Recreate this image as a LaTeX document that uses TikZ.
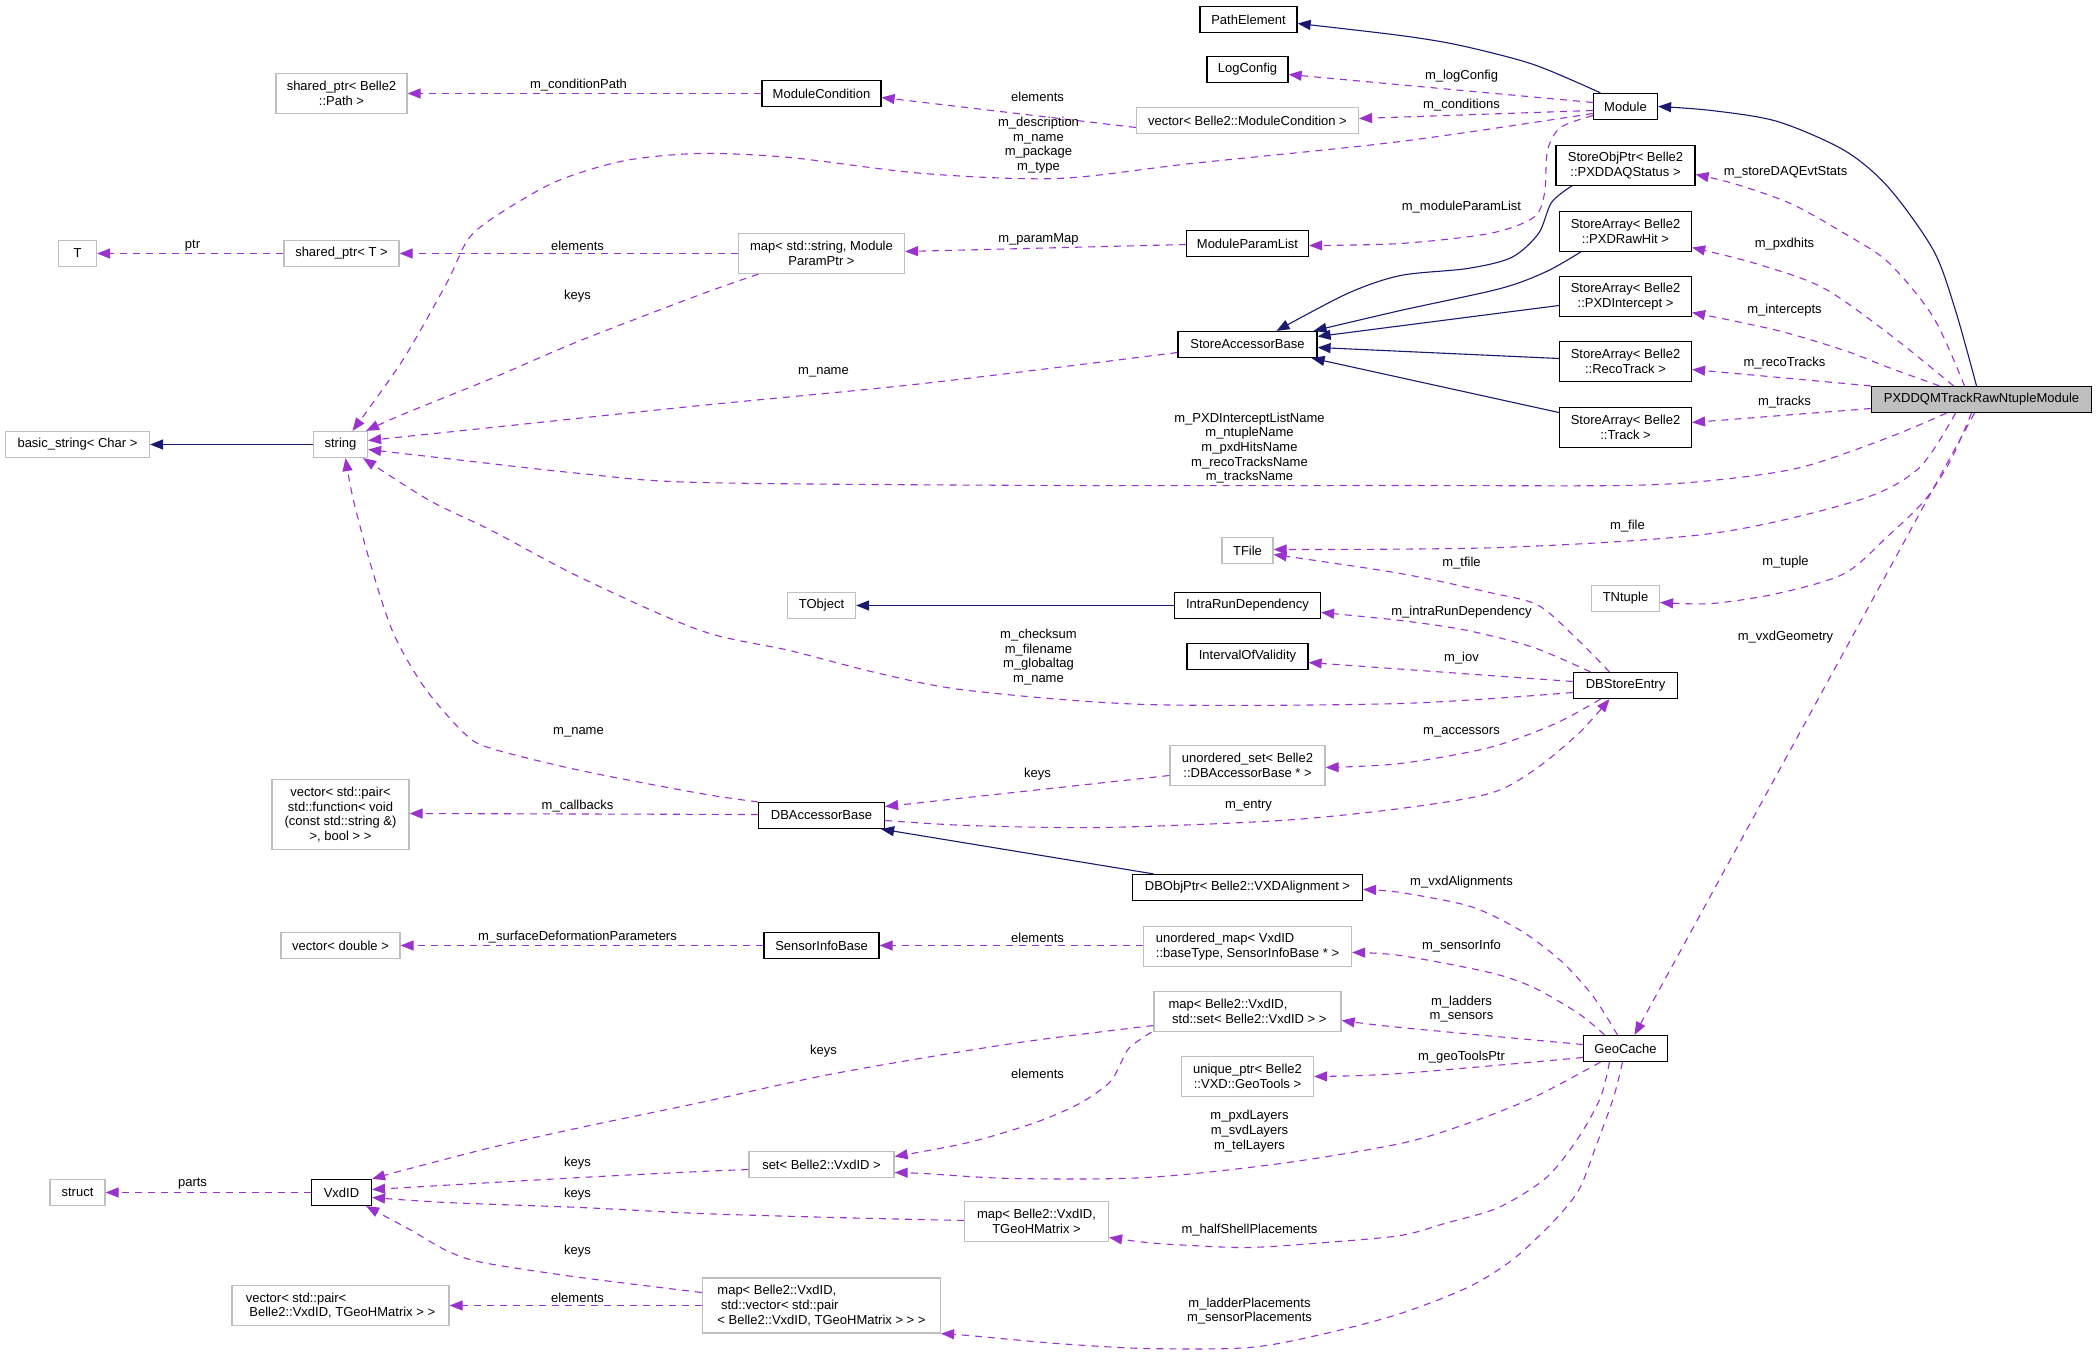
\documentclass[tikz,border=0pt]{standalone}
\usepackage{fontspec}
\setmainfont{Liberation Sans}
\usetikzlibrary{arrows.meta}
\definecolor{usec}{HTML}{9A32CD}
\definecolor{inhc}{HTML}{191970}
\definecolor{grayb}{HTML}{BFBFBF}
\begin{document}
\begin{tikzpicture}[x=1pt,y=-1pt,
  every node/.style={font=\fontsize{13}{14.7}\selectfont, inner sep=0pt, align=center},
  cls/.style={draw=black, line width=1.2pt, rectangle},
  ucls/.style={draw=grayb, line width=1.2pt, rectangle},
  lbl/.style={},
  inh/.style={draw=inhc, line width=1.1pt, -{Triangle[length=13pt,width=10pt]}},
  use/.style={draw=usec, line width=1.1pt, dash pattern=on 7pt off 6pt, -{Triangle[length=13pt,width=10pt]}},
]
\useasboundingbox[fill=white] (-0.5,-0.5) rectangle (2095.5,1355.5);

% ---------- classes ----------
\node[cls, minimum width=97pt, minimum height=26pt] (pathel) at (1248,19) {PathElement};
\node[cls, minimum width=81pt, minimum height=26pt] (logcfg) at (1247,69) {LogConfig};
\node[cls, minimum width=64pt, minimum height=26pt] (module) at (1625,106) {Module};
\node[cls, minimum width=119pt, minimum height=26pt] (modcond) at (821,93) {ModuleCondition};
\node[ucls, minimum width=222pt, minimum height=26pt] (vecmc) at (1247,120) {vector< Belle2::ModuleCondition >};
\node[ucls, minimum width=131pt, minimum height=40pt] (shpath) at (341,93) {shared\_ptr< Belle2\\::Path >};
\node[ucls, minimum width=38pt, minimum height=26pt] (tt) at (77,253) {T};
\node[ucls, minimum width=115pt, minimum height=26pt] (shT) at (341,253) {shared\_ptr< T >};
\node[ucls, minimum width=166pt, minimum height=40pt] (mapsp) at (821,253) {map< std::string, Module\\ParamPtr >};
\node[cls, minimum width=122pt, minimum height=26pt] (mpl) at (1247,243) {ModuleParamList};
\node[cls, minimum width=139pt, minimum height=40pt] (storeobj) at (1625,165) {StoreObjPtr< Belle2\\::PXDDAQStatus >};
\node[cls, minimum width=132pt, minimum height=40pt] (sarawhit) at (1625,231) {StoreArray< Belle2\\::PXDRawHit >};
\node[cls, minimum width=132pt, minimum height=40pt] (saint) at (1625,296) {StoreArray< Belle2\\::PXDIntercept >};
\node[cls, minimum width=132pt, minimum height=40pt] (sareco) at (1625,361) {StoreArray< Belle2\\::RecoTrack >};
\node[cls, minimum width=132pt, minimum height=40pt] (satrack) at (1625,427) {StoreArray< Belle2\\::Track >};
\node[cls, minimum width=139pt, minimum height=26pt] (sab) at (1247,344) {StoreAccessorBase};
\node[cls, fill=grayb, minimum width=220pt, minimum height=26pt] (pxd) at (1981,399) {PXDDQMTrackRawNtupleModule};
\node[ucls, minimum width=144pt, minimum height=26pt] (basicstr) at (77,444) {basic\_string< Char >};
\node[ucls, minimum width=54pt, minimum height=26pt] (str) at (340,444) {string};
\node[ucls, minimum width=51pt, minimum height=26pt] (tfile) at (1247,550) {TFile};
\node[ucls, minimum width=68pt, minimum height=26pt] (tntuple) at (1625,598) {TNtuple};
\node[ucls, minimum width=68pt, minimum height=26pt] (tobject) at (821,605) {TObject};
\node[cls, minimum width=146pt, minimum height=26pt] (intrarun) at (1247,605) {IntraRunDependency};
\node[cls, minimum width=121pt, minimum height=26pt] (iov) at (1247,656) {IntervalOfValidity};
\node[cls, minimum width=104pt, minimum height=26pt] (dbstore) at (1625,685) {DBStoreEntry};
\node[ucls, minimum width=155pt, minimum height=40pt] (uset) at (1247,765) {unordered\_set< Belle2\\::DBAccessorBase * >};
\node[cls, minimum width=126pt, minimum height=26pt] (dbacc) at (821,815) {DBAccessorBase};
\node[ucls, minimum width=137pt, minimum height=70pt] (veccb) at (340,814) {vector< std::pair<\\std::function< void\\(const std::string \&)\\>, bool > >};
\node[cls, minimum width=230pt, minimum height=26pt] (dbobj) at (1247,887) {DBObjPtr< Belle2::VXDAlignment >};
\node[ucls, minimum width=119pt, minimum height=26pt] (vecdbl) at (340,945) {vector< double >};
\node[cls, minimum width=115pt, minimum height=26pt] (sib) at (821,945) {SensorInfoBase};
\node[ucls, align=left, minimum width=208pt, minimum height=40pt] (umap) at (1247,946) {unordered\_map< VxdID\\::baseType, SensorInfoBase * >};
\node[ucls, align=left, minimum width=187pt, minimum height=40pt] (mapset) at (1247,1011) {map< Belle2::VxdID,\\\hspace*{3.6pt}std::set< Belle2::VxdID > >};
\node[ucls, minimum width=132pt, minimum height=40pt] (uptr) at (1247,1076) {unique\_ptr< Belle2\\::VXD::GeoTools >};
\node[cls, minimum width=84pt, minimum height=26pt] (geocache) at (1625,1048) {GeoCache};
\node[ucls, minimum width=145pt, minimum height=26pt] (setv) at (821,1164) {set< Belle2::VxdID >};
\node[ucls, minimum width=55pt, minimum height=26pt] (struct) at (77,1192) {struct};
\node[cls, minimum width=60pt, minimum height=26pt] (vxdid) at (341,1192) {VxdID};
\node[ucls, minimum width=144pt, minimum height=40pt] (maptg) at (1036,1221) {map< Belle2::VxdID,\\TGeoHMatrix >};
\node[ucls, align=left, minimum width=217pt, minimum height=40pt] (vecpair) at (340,1305) {vector< std::pair<\\\hspace*{3.6pt}Belle2::VxdID, TGeoHMatrix > >};
\node[ucls, align=left, minimum width=238pt, minimum height=55pt] (mapvec) at (821,1305) {map< Belle2::VxdID,\\\hspace*{3.6pt}std::vector< std::pair\\< Belle2::VxdID, TGeoHMatrix > > >};

% ---------- inheritance ----------
\draw[inh] plot[smooth] coordinates {([xshift=-5pt]pxd.north) (1955,310) (1933,250) (1888,187) (1844,150) (1777,121) (1711,110) (module.east)};
\draw[inh] plot[smooth] coordinates {([xshift=-25pt]module.north) (1533,64) (1460,45) (1400,35) ([yshift=-4pt]pathel.east)};
\draw[inh] plot[smooth] coordinates {([xshift=-54pt]storeobj.south) (1551,202) (1538,233) (1511,257) (1467,268) (1400,275) (1347,293) ([xshift=29pt]sab.north)};
\draw[inh] plot[smooth] coordinates {([xshift=-45pt]sarawhit.south) (1546,271) (1500,288) (1400,310) ([xshift=-4pt]sab.north east)};
\draw[inh] ([yshift=-9pt]saint.west) -- ([yshift=8pt]sab.east);
\draw[inh] ([yshift=3pt]sareco.west) -- ([yshift=-3pt]sab.east);
\draw[inh] ([yshift=15pt]satrack.west) -- ([xshift=-6pt]sab.south east);
\draw[inh] (intrarun.west) -- (tobject.east);
\draw[inh] ([xshift=-94pt]dbobj.north) -- ([xshift=-4pt]dbacc.south east);
\draw[inh] (str.west) -- (basicstr.east);

% ---------- usage ----------
\draw[use] (modcond.west) -- (shpath.east);
\draw[use] ([yshift=-7pt]vecmc.west) -- ([yshift=-4pt]modcond.east);
\draw[use] ([yshift=4pt]module.west) -- ([yshift=-5pt]logcfg.east);
\draw[use] ([yshift=-4pt]module.west) -- ([yshift=2pt]vecmc.east);
\draw[use] plot[smooth] coordinates {([yshift=-7pt]module.west) (1400,141) (1191,163) (1057,178) (923,173) (789,157) (700,153) (625,160) (558,180) (504,210) (469,237) (446,283) (402,360) ([xshift=12pt]str.north)};
\draw[use] plot[smooth] coordinates {([yshift=-9pt]module.west) (1560,127) (1547,150) (1544,193) (1533,217) (1489,233) (1400,243) ([yshift=-2pt]mpl.east)};
\draw[use] ([yshift=-1pt]mpl.west) -- ([yshift=2pt]mapsp.east);
\draw[use] (mapsp.west) -- (shT.east);
\draw[use] (shT.west) -- (tt.east);
\draw[use] plot[smooth] coordinates {([xshift=-63pt]mapsp.south) (700,294) (580,340) (491,378) (402,414) ([xshift=-2pt]str.north east)};
\draw[use] plot[smooth] coordinates {([yshift=-8pt]sab.west) (923,383) (700,405) (491,427) ([yshift=4pt]str.east)};
\draw[use] plot[smooth] coordinates {([xshift=-35pt]pxd.south) (1888,437) (1800,467) (1711,480) (1622,485) (1400,485) (1057,485) (700,482) (580,473) (446,458) ([yshift=-5pt]str.east)};
\draw[use] plot[smooth] coordinates {([xshift=-17pt]pxd.north) (1933,317) (1888,262) (1844,233) (1790,203) (1733,183) ([yshift=-9pt]storeobj.east)};
\draw[use] plot[smooth] coordinates {([xshift=-28pt]pxd.north) (1888,333) (1822,287) (1755,263) ([yshift=-16pt]sarawhit.east)};
\draw[use] plot[smooth] coordinates {([xshift=-42pt]pxd.north) (1888,367) (1844,350) (1777,330) ([yshift=-16pt]saint.east)};
\draw[use] (pxd.north west) -- ([yshift=-8pt]sareco.east);
\draw[use] ([yshift=-9pt]pxd.west) -- ([yshift=5pt]satrack.east);
\draw[use] plot[smooth] coordinates {([xshift=-26pt]pxd.south) (1918,468) (1857,500) (1711,533) (1500,547) ([yshift=1pt]tfile.east)};
\draw[use] plot[smooth] coordinates {([xshift=-16pt]dbstore.north) (1578,640) (1538,605) (1489,592) (1400,573) ([yshift=-4pt]tfile.east)};
\draw[use] plot[smooth] coordinates {([xshift=-10pt]pxd.south) (1950,460) (1924,500) (1888,535) (1844,573) (1777,593) (1711,603) ([yshift=-4pt]tntuple.east)};
\draw[use] ([xshift=-7pt]pxd.south) -- ([xshift=9pt]geocache.north);
\draw[use] plot[smooth] coordinates {([xshift=-35pt]dbstore.north) (1533,647) (1467,630) (1400,620) ([yshift=-7pt]intrarun.east)};
\draw[use] ([yshift=4pt]dbstore.west) -- ([yshift=-6pt]iov.east);
\draw[use] plot[smooth] coordinates {([yshift=-7pt]dbstore.west) (1400,703) (1146,704) (968,690) (879,673) (789,650) (700,630) (580,577) (491,530) (429,500) ([xshift=-5pt]str.south east)};
\draw[use] plot[smooth] coordinates {(dbacc.north west) (700,793) (580,770) (491,748) (464,733) (424,687) (393,633) (371,567) (353,500) ([xshift=5pt]str.south)};
\draw[use] ([yshift=1pt]dbacc.west) -- ([yshift=1pt]veccb.east);
\draw[use] ([yshift=-10pt]uset.west) -- ([yshift=9pt]dbacc.east);
\draw[use] plot[smooth] coordinates {([xshift=-25pt]dbstore.south) (1555,723) (1489,747) (1400,763) ([yshift=-2pt]uset.east)};
\draw[use] plot[smooth] coordinates {([yshift=-5pt]dbacc.east) (968,825) (1102,827) (1280,820) (1400,808) (1489,793) (1533,770) (1578,733) ([xshift=-16pt]dbstore.south)};
\draw[use] plot[smooth] coordinates {([xshift=-8pt]geocache.north) (1592,995) (1560,960) (1520,930) (1470,906) (1400,892) ([yshift=-2pt]dbobj.east)};
\draw[use] plot[smooth] coordinates {([xshift=-21pt]geocache.north) (1578,1013) (1533,987) (1489,972) (1400,955) ([yshift=-6pt]umap.east)};
\draw[use] ([yshift=1pt]umap.west) -- (sib.east);
\draw[use] (sib.west) -- (vecdbl.east);
\draw[use] plot[smooth] coordinates {([yshift=4pt]geocache.west) (1400,1027) ([yshift=-9pt]mapset.east)};
\draw[use] plot[smooth] coordinates {([yshift=-9pt]geocache.west) (1400,1073) (uptr.east)};
\draw[use] plot[smooth] coordinates {([xshift=-25pt]geocache.south) (1533,1097) (1467,1123) (1400,1143) (1280,1163) (1146,1177) (1012,1178) (923,1173) ([yshift=-8pt]setv.east)};
\draw[use] plot[smooth] coordinates {([xshift=-2pt]mapset.south west) (1129,1047) (1120,1063) (1109,1082) (1079,1103) (1035,1122) (968,1142) ([yshift=8pt]setv.east)};
\draw[use] plot[smooth] coordinates {([yshift=-14pt]mapset.west) (1012,1043) (834,1073) (700,1102) (580,1127) (491,1147) (402,1170) (vxdid.north east)};
\draw[use] plot[smooth] coordinates {([yshift=-5pt]setv.west) (700,1171) (580,1177) ([yshift=3pt]vxdid.east)};
\draw[use] plot[smooth] coordinates {([yshift=1pt]maptg.west) (834,1217) (700,1213) (580,1207) (446,1202) ([yshift=-5pt]vxdid.east)};
\draw[use] plot[smooth] coordinates {([yshift=13pt]mapvec.west) (580,1277) (482,1262) (446,1250) (411,1230) ([xshift=-6pt]vxdid.south east)};
\draw[use] (mapvec.west) -- (vecpair.east);
\draw[use] (vxdid.west) -- (struct.east);
\draw[use] plot[smooth] coordinates {([xshift=-16pt]geocache.south) (1600,1097) (1578,1137) (1546,1177) (1498,1207) (1444,1223) (1400,1235) (1325,1242) (1249,1247) (1191,1245) (1146,1242) ([yshift=-16pt]maptg.east)};
\draw[use] plot[smooth] coordinates {([xshift=-3pt]geocache.south) (1613,1097) (1595,1147) (1578,1190) (1551,1223) (1511,1260) (1467,1287) (1400,1313) (1325,1333) (1249,1347) (1146,1348) (1057,1343) (968,1335) (mapvec.south east)};

% ---------- edge labels ----------
\node[lbl] (l01) at (578,85) {m\_conditionPath};
\node[lbl] (l02) at (192,245) {ptr};
\node[lbl] (l03) at (577,245) {elements};
\node[lbl] (l04) at (577,296) {keys};
\node[lbl] (l05) at (1037,96) {elements};
\node[lbl] (l06) at (1038,144.5) {m\_description\\m\_name\\m\_package\\m\_type};
\node[lbl] (l07) at (1461,76) {m\_logConfig};
\node[lbl] (l08) at (1461,105) {m\_conditions};
\node[lbl] (l09) at (1461,207) {m\_moduleParamList};
\node[lbl] (l10) at (1038,239) {m\_paramMap};
\node[lbl] (l11) at (823,372) {m\_name};
\node[lbl] (l12) at (1249,447.5) {m\_PXDInterceptListName\\m\_ntupleName\\m\_pxdHitsName\\m\_recoTracksName\\m\_tracksName};
\node[lbl] (l13) at (1785,172) {m\_storeDAQEvtStats};
\node[lbl] (l14) at (1784,244) {m\_pxdhits};
\node[lbl] (l15) at (1784,310) {m\_intercepts};
\node[lbl] (l16) at (1784,363) {m\_recoTracks};
\node[lbl] (l17) at (1784,402) {m\_tracks};
\node[lbl] (l18) at (1627,526) {m\_file};
\node[lbl] (l19) at (1461,563) {m\_tfile};
\node[lbl] (l20) at (1785,562) {m\_tuple};
\node[lbl] (l21) at (1461,612) {m\_intraRunDependency};
\node[lbl] (l22) at (1461,658) {m\_iov};
\node[lbl] (l23) at (1038,656.5) {m\_checksum\\m\_filename\\m\_globaltag\\m\_name};
\node[lbl] (l24) at (1785,637) {m\_vxdGeometry};
\node[lbl] (l25) at (1461,732) {m\_accessors};
\node[lbl] (l26) at (1037,774) {keys};
\node[lbl] (l27) at (1248,805) {m\_entry};
\node[lbl] (l28) at (578,732) {m\_name};
\node[lbl] (l29) at (577,806) {m\_callbacks};
\node[lbl] (l30) at (1461,882) {m\_vxdAlignments};
\node[lbl] (l31) at (577,937) {m\_surfaceDeformationParameters};
\node[lbl] (l32) at (1037,937) {elements};
\node[lbl] (l33) at (1461,946) {m\_sensorInfo};
\node[lbl] (l34) at (1461,1008.5) {m\_ladders\\m\_sensors};
\node[lbl] (l35) at (1461,1057) {m\_geoToolsPtr};
\node[lbl] (l36) at (823,1051) {keys};
\node[lbl] (l37) at (1037,1073) {elements};
\node[lbl] (l38) at (1249,1130.5) {m\_pxdLayers\\m\_svdLayers\\m\_telLayers};
\node[lbl] (l39) at (577,1163) {keys};
\node[lbl] (l40) at (577,1194) {keys};
\node[lbl] (l41) at (577,1251) {keys};
\node[lbl] (l42) at (192,1183) {parts};
\node[lbl] (l43) at (577,1297) {elements};
\node[lbl] (l44) at (1249,1230) {m\_halfShellPlacements};
\node[lbl] (l45) at (1249,1310.5) {m\_ladderPlacements\\m\_sensorPlacements};
\end{tikzpicture}
\end{document}
